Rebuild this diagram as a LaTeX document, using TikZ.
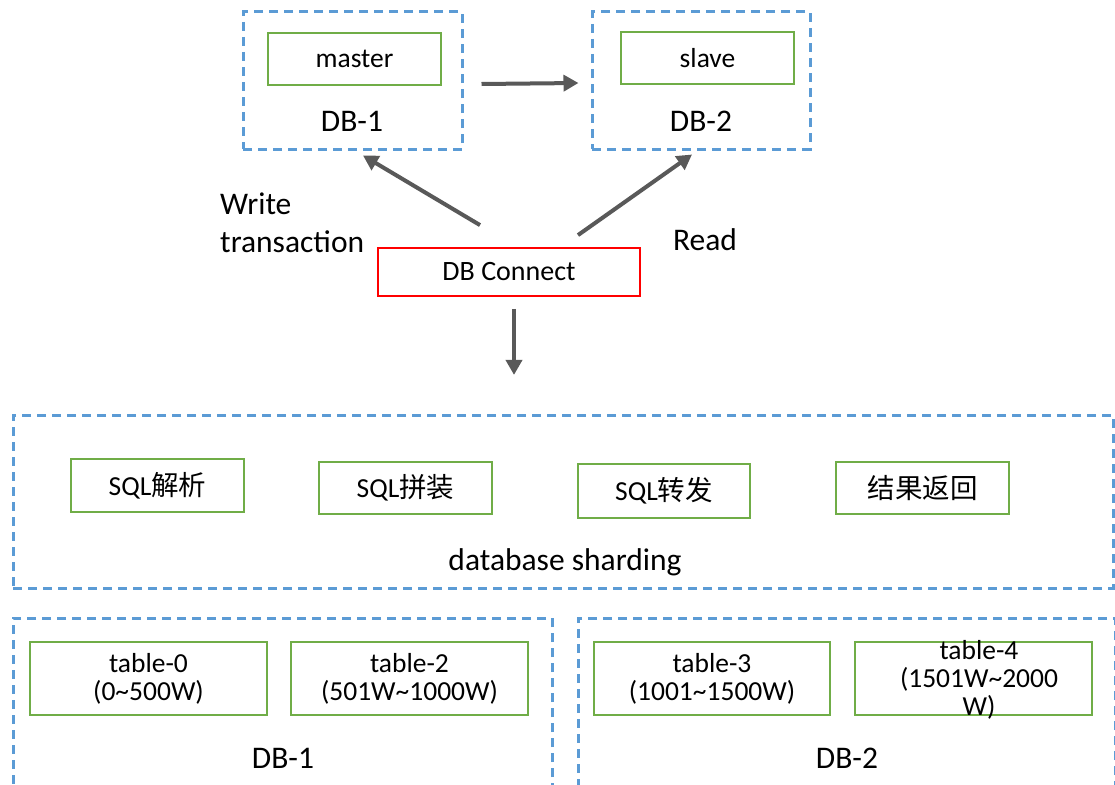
\documentclass[tikz,border=0pt]{standalone}
\usepackage{fontspec}
\setmainfont{Carlito}
\newfontfamily\cjk{Noto Sans CJK SC}
\usetikzlibrary{arrows.meta}
\definecolor{dashblue}{HTML}{5B9BD5}
\definecolor{boxgreen}{HTML}{70AD47}
\definecolor{arrgray}{HTML}{595959}
\tikzset{
  group/.style={draw=dashblue, line width=3pt, dash pattern=on 9pt off 6pt, inner sep=0pt},
  cell/.style={draw=boxgreen, line width=2.2pt, inner sep=0pt, font=\fontsize{27.5}{28}\selectfont, align=center},
  connbox/.style={draw=red, line width=1.8pt, inner sep=0pt, font=\fontsize{28}{28}\selectfont},
  lbl/.style={inner sep=0pt, font=\fontsize{31.5}{38}\selectfont, align=left},
  arr/.style={draw=arrgray, line width=4pt, -{Triangle[length=15pt,width=16pt]}},
}
\begin{document}
\begin{tikzpicture}[x=1pt,y=-1pt]
\useasboundingbox[fill=white] (0,0) rectangle (1115,784);

% read/write split
\node[group, minimum width=219pt, minimum height=137pt] (top1) at (352.5,80.5) {};
\node[group, minimum width=218pt, minimum height=137pt] (top2) at (701,80.5) {};
\node[cell, minimum width=173pt, minimum height=52pt] (master) at (354.5,59) {master};
\node[cell, minimum width=173pt, minimum height=52pt] (slave) at (707.5,58) {slave};
\node[lbl] (top1lbl) at (352,121) {DB-1};
\node[lbl] (top2lbl) at (701,121) {DB-2};

\node[connbox, minimum width=262pt, minimum height=48pt] (conn) at (509,272) {DB Connect};
\node[lbl, anchor=west] (write) at (220,223) {Write\\transaction};
\node[lbl] (read) at (705,240) {Read};

\draw[arr] ([xshift=18pt,yshift=-3.5pt]top1.east) -- ([xshift=-12pt,yshift=-2.5pt]top2.west);
\draw[arr] ([xshift=-29pt,yshift=22pt]conn.north) -- ([xshift=10.5pt,yshift=-5pt]top1.south);
\draw[arr] ([xshift=69pt,yshift=12pt]conn.north) -- ([xshift=-9pt,yshift=-4pt]top2.south);

% sharding layer
\node[group, minimum width=1100pt, minimum height=173pt] (shard) at (563,501.5) {};
\draw[arr] ([xshift=5pt,yshift=-12pt]conn.south) -- ([xshift=5pt,yshift=-78pt]conn.south);
\node[cell, minimum width=173pt, minimum height=53pt] (parse) at (157.5,485.5) {SQL{\cjk 解析}};
\node[cell, minimum width=173pt, minimum height=52pt] (build) at (405.5,488) {SQL{\cjk 拼装}};
\node[cell, minimum width=172pt, minimum height=54pt] (fwd) at (664,491) {SQL{\cjk 转发}};
\node[cell, minimum width=173pt, minimum height=52pt] (ret) at (922.5,488) {\cjk 结果返回};
\node[lbl] (shardlbl) at (565,562) {database sharding};

% physical databases
\node[group, minimum width=539pt, minimum height=190pt] (db1) at (282.5,713) {};
\node[group, minimum width=537pt, minimum height=190pt] (db2) at (846.5,713) {};
\node[cell, minimum width=237pt, minimum height=73pt] (t0) at (148.5,678.5) {table-0\\(0\textasciitilde500W)};
\node[cell, minimum width=237pt, minimum height=73pt] (t2) at (409.5,678.5) {table-2\\(501W\textasciitilde1000W)};
\node[cell, minimum width=236pt, minimum height=73pt] (t3) at (712,678.5) {table-3\\(1001\textasciitilde1500W)};
\node[cell, minimum width=237pt, minimum height=73pt] (t4) at (973.5,678.5) {};
\node[inner sep=0pt, font=\fontsize{27.5}{28}\selectfont, align=center] (t4txt) at (979,680) {table-4\\(1501W\textasciitilde2000\\W)};
\node[lbl] (db1lbl) at (283,758) {DB-1};
\node[lbl] (db2lbl) at (847,758) {DB-2};
\end{tikzpicture}
\end{document}
